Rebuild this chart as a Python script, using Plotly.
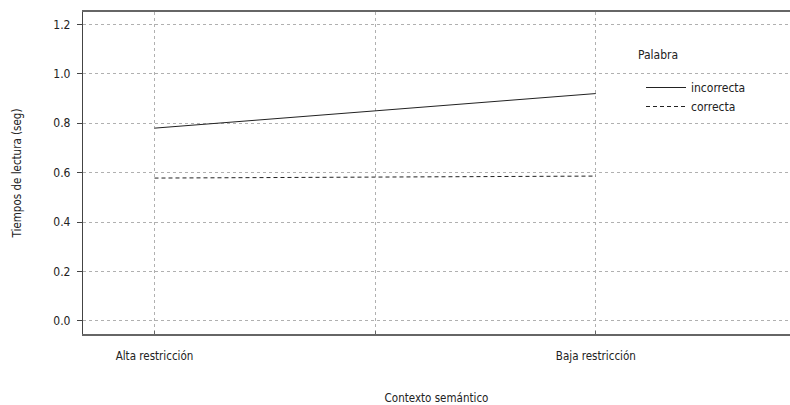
import plotly.graph_objects as go

categories = ["Alta restricción", "Baja restricción"]
cat_pos = [1, 2]
incorrecta = [0.78, 0.92]
correcta = [0.578, 0.586]
y_ticks = [0.0, 0.2, 0.4, 0.6, 0.8, 1.0, 1.2]

FONT = "DejaVu Sans Condensed, Roboto, sans-serif"

fig = go.Figure()
fig.add_trace(go.Scatter(x=cat_pos, y=incorrecta, mode="lines", name="incorrecta",
                         line=dict(color="#222222", width=1, dash="solid")))
fig.add_trace(go.Scatter(x=cat_pos, y=correcta, mode="lines", name="correcta",
                         line=dict(color="#222222", width=1, dash="4px,3px")))

fig.update_layout(
    width=790, height=405,
    margin=dict(l=83, r=0, t=12, b=71, autoexpand=False),
    paper_bgcolor="white", plot_bgcolor="white",
    font=dict(family=FONT, size=12, color="#222222"),
    showlegend=True,
    legend=dict(x=(641 - 83) / 707, y=(334 - 73) / 322, xanchor="left", yanchor="top",
                bgcolor="rgba(0,0,0,0)", font=dict(size=12), tracegroupgap=0,
                itemwidth=40),
    annotations=[dict(text="Palabra", x=(636 - 83) / 707, y=(334 - 46) / 322,
                      xref="paper", yref="paper", xanchor="left",
                      showarrow=False, font=dict(size=12))],
)

fig.update_xaxes(
    range=[0.838, 2.44],
    tickvals=[1, 1.5, 2], ticktext=[categories[0], "", categories[1]],
    showgrid=True, gridcolor="#b0b0b0", griddash="3px,3px", gridwidth=1,
    showline=True, linecolor="#666666", linewidth=1.5, mirror=True,
    ticks="inside", ticklen=3, tickcolor="#666666",
    ticklabelstandoff=10,
    zeroline=False, automargin=False,
    title=dict(text="Contexto semántico", standoff=34, font=dict(size=11.5)),
    tickfont=dict(size=11.5),
)
fig.update_yaxes(
    range=[-0.053, 1.25],
    tickvals=y_ticks, ticktext=[f"{v:.1f}" for v in y_ticks],
    showgrid=True, gridcolor="#b0b0b0", griddash="3px,3px", gridwidth=1,
    showline=True, linecolor="#444444", linewidth=1.2,
    ticks="outside", ticklen=5, tickcolor="#444444",
    ticklabelstandoff=4,
    zeroline=False, automargin=False,
    title=dict(text="Tiempos de lectura (seg)", standoff=29, font=dict(size=11.5)),
    tickfont=dict(size=12),
)

fig.write_html("out.html", config={"displayModeBar": False},
               post_script="document.body.style.margin='0';document.body.style.overflow='hidden';")
